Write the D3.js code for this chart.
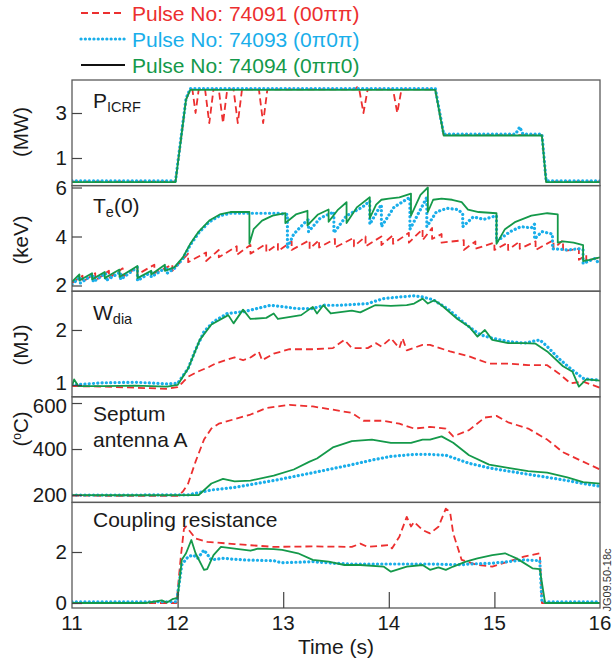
<!DOCTYPE html>
<html><head><meta charset="utf-8">
<script src="https://cdn.jsdelivr.net/npm/d3@7"></script>
<style>body{margin:0;background:#fff}svg{display:block}text{font-family:"Liberation Sans",Arial,Helvetica,sans-serif}</style>
</head><body><svg id="c" width="613" height="662"></svg>
<script>
// ---------- data ----------
const timeTicks = [11, 12, 13, 14, 15, 16];
const pulses = ["Pulse No: 74091 (00\u03c0\u03c0)", "Pulse No: 74093 (0\u03c00\u03c0)", "Pulse No: 74094 (0\u03c0\u03c00)"];
const pTicks = [1, 3];
const teTicks = [2, 4, 6];
const wTicks = [1, 2];
const sTicks = [200, 400, 600];
const cTicks = [0, 2];

// P_ICRF (MW)
const picrf74091 = [[11,-0.05],[11.98,-0.05],[12.08,3.6],[12.12,4.05],[12.14,4.05],[12.17,3.0],[12.2,4.05],[12.26,4.05],[12.3,2.55],[12.34,4.05],[12.39,4.05],[12.43,2.55],[12.47,4.05],[12.53,4.05],[12.57,2.55],[12.61,4.05],[12.77,4.05],[12.81,2.55],[12.85,4.05],[13.68,4.05],[13.7,4.15],[13.72,4.05],[13.76,3.0],[13.8,4.05],[14.04,4.05],[14.08,3.0],[14.12,4.05],[14.44,4.05],[14.52,2.02],[15.45,2.02],[15.49,-0.05],[16,-0.05]];
const picrf74093 = [[11,-0.02],[11.98,-0.02],[12.08,3.65],[12.12,4.09],[14.44,4.09],[14.52,2.06],[15.2,2.06],[15.24,2.38],[15.27,2.06],[15.45,2.06],[15.49,-0.02],[16,-0.02]];
const picrf74094 = [[11,-0.07],[11.98,-0.07],[12.08,3.6],[12.12,4.03],[14.44,4.03],[14.52,2.0],[15.45,2.0],[15.49,-0.07],[16,-0.07]];

// Te(0) (keV)
const te74091 = [[11.0,2.1],[11.1,2.4],[11.1,2.15],[11.22,2.5],[11.22,2.2],[11.35,2.6],[11.35,2.3],[11.48,2.7],[11.48,2.35],[11.62,2.75],[11.62,2.45],[11.78,2.85],[11.78,2.5],[11.95,2.85],[11.95,2.6],[12.1,3.3],[12.1,2.95],[12.27,3.35],[12.27,3.0],[12.39,3.45],[12.39,3.15],[12.56,3.6],[12.56,3.25],[12.69,3.65],[12.69,3.3],[12.84,3.7],[12.84,3.35],[12.95,3.7],[12.95,3.4],[13.08,3.8],[13.08,3.45],[13.25,3.85],[13.25,3.5],[13.34,3.85],[13.34,3.55],[13.49,3.9],[13.49,3.55],[13.67,3.95],[13.67,3.6],[13.78,4.0],[13.78,3.6],[13.93,4.0],[13.93,3.65],[14.04,4.05],[14.04,3.7],[14.19,4.15],[14.19,3.75],[14.32,4.3],[14.32,3.85],[14.41,4.35],[14.41,3.9],[14.5,4.1],[14.5,3.75],[14.71,3.85],[14.71,3.45],[14.82,3.8],[14.82,3.5],[15.0,3.75],[15.0,3.45],[15.13,3.75],[15.13,3.45],[15.24,3.8],[15.24,3.5],[15.39,3.8],[15.39,3.45],[15.56,3.85],[15.56,3.5],[15.65,3.85],[15.65,3.4],[15.8,3.5],[15.8,3.05],[15.87,3.25],[15.87,3.0],[16.0,3.15]];
const te74093 = [[11.0,2.05],[11.08,2.35],[11.08,2.1],[11.2,2.45],[11.2,2.15],[11.32,2.5],[11.32,2.2],[11.46,2.55],[11.46,2.25],[11.62,2.75],[11.62,2.2],[11.75,2.55],[11.75,2.35],[11.9,2.75],[11.9,2.5],[11.97,2.7],[12.05,3.1],[12.12,3.65],[12.2,4.15],[12.3,4.6],[12.4,4.85],[12.5,4.95],[12.7,4.95],[12.95,4.95],[13.04,4.9],[13.04,3.55],[13.1,4.1],[13.2,4.55],[13.24,4.7],[13.24,4.2],[13.35,4.75],[13.48,5.0],[13.48,4.15],[13.6,4.85],[13.75,5.2],[13.82,5.45],[13.82,4.5],[13.9,5.1],[13.93,5.3],[13.93,4.4],[14.05,5.2],[14.2,5.6],[14.2,4.3],[14.3,5.1],[14.36,5.6],[14.36,4.4],[14.45,5.0],[14.55,5.15],[14.65,5.1],[14.7,4.95],[14.7,4.4],[14.8,4.8],[14.9,4.7],[15.02,4.85],[15.02,3.8],[15.15,4.2],[15.25,4.4],[15.35,4.35],[15.38,4.5],[15.38,3.9],[15.45,4.2],[15.55,4.1],[15.55,3.5],[15.7,3.45],[15.8,3.5],[15.84,3.45],[15.84,2.9],[15.95,3.1],[16.0,2.85]];
const te74094 = [[11.0,2.15],[11.07,2.45],[11.07,2.2],[11.19,2.5],[11.19,2.25],[11.31,2.55],[11.31,2.3],[11.45,2.65],[11.45,2.35],[11.62,2.8],[11.62,2.3],[11.75,2.6],[11.75,2.45],[11.88,2.85],[11.88,2.6],[11.97,2.75],[12.05,3.15],[12.12,3.7],[12.2,4.2],[12.3,4.65],[12.4,4.9],[12.5,5.0],[12.68,5.0],[12.68,3.7],[12.72,4.3],[12.8,4.65],[12.9,4.85],[13.02,4.95],[13.02,4.55],[13.12,4.9],[13.23,5.05],[13.23,4.45],[13.33,4.9],[13.43,5.1],[13.43,4.6],[13.52,5.1],[13.6,5.4],[13.6,4.55],[13.7,5.2],[13.82,5.6],[13.82,4.75],[13.88,5.3],[13.93,5.5],[14.0,5.55],[14.1,5.6],[14.21,5.75],[14.21,4.85],[14.3,5.7],[14.37,6.0],[14.37,5.0],[14.42,5.5],[14.5,5.55],[14.6,5.5],[14.69,5.4],[14.75,5.1],[14.85,5.0],[15.02,4.95],[15.02,3.7],[15.1,4.3],[15.2,4.6],[15.35,4.85],[15.5,4.95],[15.6,4.9],[15.6,3.75],[15.65,3.8],[15.75,3.75],[15.84,3.65],[15.84,3.0],[15.9,3.05],[16.0,3.15]];

// W_dia (MJ)
const w74091 = [[11,0.98],[11.3,0.97],[11.6,0.95],[11.9,0.93],[12.0,0.96],[12.05,1.05],[12.1,1.15],[12.2,1.25],[12.3,1.33],[12.36,1.39],[12.5,1.48],[12.54,1.5],[12.62,1.45],[12.69,1.5],[12.77,1.6],[12.8,1.45],[12.91,1.57],[13.06,1.65],[13.28,1.65],[13.47,1.67],[13.58,1.82],[13.65,1.67],[13.8,1.67],[13.88,1.76],[13.93,1.7],[14.02,1.85],[14.1,1.67],[14.13,1.85],[14.17,1.63],[14.32,1.73],[14.39,1.73],[14.58,1.61],[14.76,1.52],[14.95,1.39],[15.13,1.39],[15.32,1.36],[15.5,1.36],[15.61,1.21],[15.72,1.03],[15.84,1.06],[16,0.95]];
const w74093 = [[11,1.0],[11.3,1.04],[11.6,1.05],[11.9,1.02],[12.0,1.03],[12.1,1.3],[12.17,1.64],[12.25,1.97],[12.34,2.15],[12.47,2.3],[12.62,2.33],[12.88,2.45],[13.13,2.39],[13.28,2.39],[13.39,2.45],[13.54,2.45],[13.8,2.48],[13.95,2.57],[14.1,2.6],[14.24,2.62],[14.32,2.6],[14.42,2.55],[14.56,2.38],[14.7,2.15],[14.8,2.0],[14.87,1.91],[14.98,1.85],[15.13,1.79],[15.28,1.76],[15.43,1.82],[15.5,1.7],[15.61,1.48],[15.72,1.3],[15.84,1.12],[15.95,1.09],[16,1.1]];
const w74094 = [[11,0.98],[11.02,1.1],[11.06,0.98],[11.3,0.98],[11.6,0.99],[11.9,0.97],[12.0,1.0],[12.1,1.3],[12.21,1.82],[12.32,2.1],[12.48,2.27],[12.53,2.12],[12.62,2.37],[12.69,2.2],[12.84,2.22],[12.91,2.3],[12.95,2.2],[13.17,2.27],[13.28,2.42],[13.32,2.3],[13.38,2.45],[13.45,2.3],[13.65,2.35],[13.73,2.32],[13.87,2.45],[14.02,2.44],[14.17,2.45],[14.24,2.48],[14.32,2.57],[14.37,2.48],[14.43,2.54],[14.5,2.45],[14.65,2.2],[14.76,2.06],[14.84,1.88],[14.91,2.0],[14.98,1.82],[15.13,1.76],[15.28,1.76],[15.39,1.75],[15.5,1.61],[15.65,1.34],[15.74,1.24],[15.8,0.97],[15.87,1.1],[16,1.08]];

// Septum antenna A (oC)
const s74091 = [[11,198],[11.5,196],[12.0,197],[12.05,215],[12.1,250],[12.17,345],[12.25,441],[12.32,489],[12.39,510],[12.54,530],[12.69,550],[12.84,578],[13.06,592],[13.28,585],[13.47,571],[13.65,557],[13.76,523],[13.95,523],[14.1,510],[14.24,489],[14.39,496],[14.54,489],[14.61,455],[14.76,482],[14.91,537],[15.02,544],[15.13,516],[15.32,489],[15.5,441],[15.65,386],[15.84,345],[16.0,311]];
const s74093 = [[11,200],[11.5,200],[12.1,201],[12.32,222],[12.54,233],[12.91,263],[13.28,297],[13.65,332],[13.84,352],[14.02,368],[14.25,377],[14.39,377],[14.54,373],[14.76,338],[14.95,318],[15.13,304],[15.32,290],[15.5,277],[15.69,263],[15.84,250],[16.0,238]];
const s74094 = [[11,200],[11.5,199],[12.2,200],[12.32,250],[12.43,270],[12.54,259],[12.69,263],[12.91,284],[13.1,311],[13.25,345],[13.32,359],[13.47,407],[13.65,434],[13.84,441],[14.02,427],[14.21,427],[14.32,441],[14.39,441],[14.5,455],[14.61,427],[14.76,373],[14.95,332],[15.13,318],[15.32,304],[15.5,297],[15.69,277],[15.84,256],[16.0,250]];

// Coupling resistance
const c74091 = [[11,0.0],[11.99,0.0],[12.03,1.8],[12.06,2.9],[12.08,3.0],[12.17,2.53],[12.28,2.4],[12.54,2.31],[12.91,2.2],[13.28,2.22],[13.65,2.2],[13.73,2.33],[13.8,2.2],[14.0,2.27],[14.03,2.14],[14.1,2.6],[14.17,3.38],[14.21,3.0],[14.24,3.18],[14.32,2.86],[14.39,2.73],[14.47,2.99],[14.54,3.7],[14.58,3.57],[14.61,2.73],[14.69,1.69],[14.84,1.49],[14.98,1.43],[15.13,1.62],[15.28,1.82],[15.43,1.95],[15.45,0.0],[16,0.0]];
const c74093 = [[11,0.05],[11.99,0.05],[12.04,1.5],[12.1,1.82],[12.15,1.88],[12.19,1.75],[12.25,2.08],[12.32,1.69],[12.43,1.75],[12.62,1.69],[12.91,1.66],[12.98,1.58],[13.28,1.62],[13.47,1.56],[13.65,1.53],[14.02,1.53],[14.39,1.53],[14.69,1.5],[14.76,1.53],[14.98,1.56],[15.13,1.62],[15.28,1.69],[15.43,1.66],[15.45,0.05],[16,0.05]];
const c74094 = [[11,0.0],[11.7,0.0],[11.85,0.1],[11.9,0.02],[11.95,0.15],[12.0,0.2],[12.04,1.7],[12.08,1.95],[12.13,2.47],[12.17,1.95],[12.25,1.3],[12.28,1.33],[12.34,1.88],[12.41,2.2],[12.54,2.13],[12.69,2.05],[12.76,2.13],[12.91,2.11],[12.99,2.08],[13.14,1.95],[13.28,1.69],[13.43,1.62],[13.58,1.49],[13.73,1.49],[13.95,1.43],[14.02,1.23],[14.17,1.43],[14.32,1.49],[14.39,1.3],[14.47,1.4],[14.54,1.3],[14.61,1.43],[14.73,1.62],[14.84,1.75],[14.98,1.88],[15.1,1.95],[15.21,1.75],[15.36,1.36],[15.43,1.33],[15.48,0.0],[16,0.0]];

// ---------- drawing ----------
const svg = d3.select("#c");
const colors = ["#ec2f2f", "#19aeea", "#14994a"];
const styles = [
  {dash: "7,4", width: 1.8, cap: "butt"},
  {dash: "0.1,4.2", width: 3.2, cap: "round"},
  {dash: null, width: 1.8, cap: "butt"}
];
const FS = 21, TFS = 20.5;
const x = d3.scaleLinear().domain([11, 16]).range([72, 600]);
const top0 = 80, ph = 105.6;

const panels = [
  {domain: [-0.227, 4.467], ticks: pTicks, series: [picrf74091, picrf74093, picrf74094]},
  {domain: [1.767, 6.078], ticks: teTicks, series: [te74091, te74093, te74094]},
  {domain: [0.785, 2.705], ticks: wTicks, series: [w74091, w74093, w74094]},
  {domain: [168, 627], ticks: sTicks, series: [s74091, s74093, s74094]},
  {domain: [-0.196, 3.945], ticks: cTicks, series: [c74091, c74093, c74094]}
];
// small vertical nudges for tick labels that sit next to a panel border
const labelDy = {"2-1": 5, "3-600": 9.5};

panels.forEach((p, i) => {
  const t = top0 + i * ph, b = t + ph;
  const y = d3.scaleLinear().domain(p.domain).range([b, t]);
  const clipId = "clip" + i;
  svg.append("clipPath").attr("id", clipId).append("rect")
    .attr("x", 72).attr("y", t).attr("width", 528).attr("height", ph);
  const g = svg.append("g").attr("clip-path", `url(#${clipId})`);
  const line = d3.line().x(d => x(d[0])).y(d => y(d[1]));
  p.series.forEach((s, ci) => {
    const st = styles[ci];
    g.append("path").datum(s).attr("d", line)
      .attr("fill", "none").attr("stroke", colors[ci])
      .attr("stroke-width", st.width).attr("stroke-dasharray", st.dash)
      .attr("stroke-linecap", st.cap).attr("stroke-linejoin", "round");
  });
  // frame
  svg.append("rect").attr("x", 72).attr("y", t).attr("width", 528).attr("height", ph)
    .attr("fill", "none").attr("stroke", "#5a5a5a").attr("stroke-width", 1.3);
  // y axis (ticks inward)
  const ax = d3.axisRight(y).tickValues(p.ticks).tickSize(10).tickFormat("");
  const ag = svg.append("g").attr("transform", "translate(72,0)").call(ax);
  ag.select(".domain").remove();
  ag.selectAll("line").attr("stroke", "#444").attr("stroke-width", 1.2);
  p.ticks.forEach(v => {
    const dy = labelDy[i + "-" + v] !== undefined ? labelDy[i + "-" + v] : 7;
    svg.append("text").attr("x", 67).attr("y", y(v) + dy).attr("text-anchor", "end")
      .attr("font-size", TFS).attr("fill", "#1a1a1a").text(v);
  });
});

// x axis (bottom panel)
const xb = top0 + 5 * ph;
const xa = d3.axisTop(x).tickValues(timeTicks.slice(1, -1)).tickSize(16).tickFormat("");
const xg = svg.append("g").attr("transform", `translate(0,${xb})`).call(xa);
xg.select(".domain").remove();
xg.selectAll("line").attr("stroke", "#444").attr("stroke-width", 1.2);
timeTicks.forEach(v => {
  svg.append("text").attr("x", x(v)).attr("y", xb + 22).attr("text-anchor", "middle")
    .attr("font-size", TFS).attr("fill", "#1a1a1a").text(v);
});
svg.append("text").attr("x", 336).attr("y", 654).attr("text-anchor", "middle")
  .attr("font-size", FS).attr("fill", "#1a1a1a").text("Time (s)");

// unit labels
const units = [["(MW)", 132], ["(keV)", 240], ["(MJ)", 345]];
units.forEach(u => {
  svg.append("text").attr("transform", `translate(28,${u[1]}) rotate(-90)`)
    .attr("text-anchor", "middle").attr("font-size", TFS).attr("fill", "#1a1a1a").text(u[0]);
});
const cu = svg.append("text").attr("transform", "translate(28,429) rotate(-90)")
  .attr("text-anchor", "middle").attr("font-size", TFS).attr("fill", "#1a1a1a");
cu.append("tspan").text("(");
cu.append("tspan").attr("font-size", 12).attr("dy", -7).text("o");
cu.append("tspan").attr("dy", 7).text("C)");

// panel labels
const lab = (xx, yy) => svg.append("text").attr("x", xx).attr("y", yy).attr("font-size", FS).attr("fill", "#1a1a1a");
const l1 = lab(93, 108); l1.append("tspan").text("P"); l1.append("tspan").attr("font-size", 14.5).attr("dy", 4).text("ICRF");
const l2 = lab(93, 213); l2.append("tspan").text("T"); l2.append("tspan").attr("font-size", 14.5).attr("dy", 4).text("e"); l2.append("tspan").attr("dy", -4).text("(0)");
const l3 = lab(93, 320); l3.append("tspan").text("W"); l3.append("tspan").attr("font-size", 14.5).attr("dy", 4).text("dia");
lab(93, 421).text("Septum");
lab(93, 447).text("antenna A");
lab(93, 527).text("Coupling resistance");

// figure id
svg.append("text").attr("transform", "translate(611,580) rotate(-90)").attr("text-anchor", "middle")
  .attr("font-size", 11).attr("fill", "#333").text("JG09.50-18c");

// legend
const legStroke = [colors[0], colors[1], "#111"];
pulses.forEach((txt, i) => {
  const yy = 13 + i * 26;
  svg.append("line").attr("x1", 81).attr("x2", 125).attr("y1", yy).attr("y2", yy)
    .attr("stroke", legStroke[i]).attr("stroke-width", styles[i].width)
    .attr("stroke-dasharray", styles[i].dash).attr("stroke-linecap", styles[i].cap);
  svg.append("text").attr("x", 132).attr("y", yy + 7.5).attr("font-size", FS)
    .attr("fill", colors[i]).text(txt);
});
</script></body></html>
